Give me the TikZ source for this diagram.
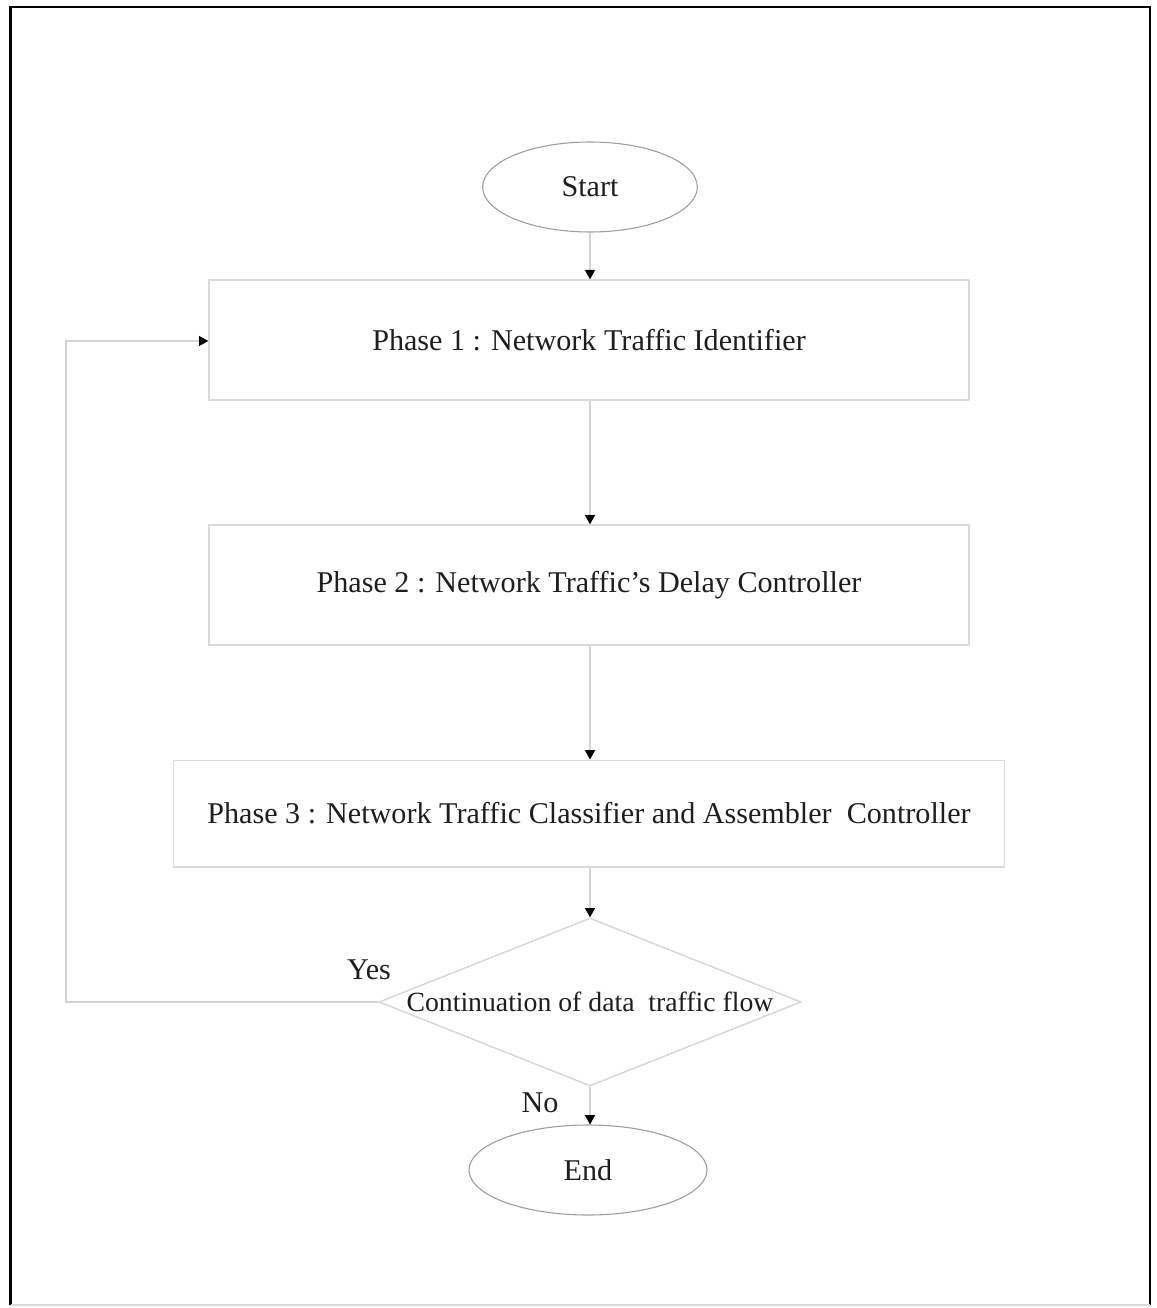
\documentclass[tikz,border=0pt]{standalone}
\usepackage{fontspec}
\setmainfont{Liberation Serif}
\usetikzlibrary{arrows.meta,shapes.geometric}
\definecolor{boxline}{HTML}{DADADA}
\definecolor{flowline}{HTML}{D4D4D4}
\definecolor{ovalline}{HTML}{9C9C9C}
\definecolor{inkcol}{HTML}{1E1E1E}
\tikzset{
  label font/.style={font=\fontsize{22.6pt}{26pt}\selectfont, text=inkcol},
  terminal/.style={ellipse, draw=ovalline, line width=0.8pt, inner sep=0pt,
    minimum width=161pt, minimum height=67.5pt, label font},
  phasebox/.style={rectangle, draw=boxline, line width=1pt, inner sep=0pt,
    minimum width=570pt, minimum height=90pt, label font},
  decision/.style={diamond, draw=flowline, line width=1pt, inner sep=0pt,
    minimum width=316.5pt, minimum height=126pt},
  flow/.style={draw=flowline, line width=1pt,
    -{Triangle[width=7.5pt,length=7pt,color=black]}}
}
\begin{document}
\begin{tikzpicture}[x=0.75pt,y=-0.75pt]
  \useasboundingbox (0,0) rectangle (1156,1308);
  % outer frame
  \draw[black, line width=2pt] (10.5,1305) -- (10.5,7) -- (1150,7) -- (1150,1305);
  \draw[boxline, line width=1pt] (10.5,1305) -- (1150,1305);

  % flow nodes
  \node[terminal] (start) at (590,187) {Start};
  \node[phasebox] (p1) at (589,340) {Phase 1 : Network Traffic Identifier};
  \node[phasebox] (p2) at (589,585) {Phase 2 : Network Traffic’s Delay Controller};
  \node[phasebox, minimum width=623pt, minimum height=80pt] (p3) at (589,813.5)
    {Phase 3 : Network Traffic Classifier and Assembler\ \ Controller};
  \node[decision] (dec) at (590,1002) {};
  \node[label font, font=\fontsize{20.8pt}{24pt}\selectfont] (dectext) at (590,1002)
    {Continuation of data\ \ traffic flow};
  \node[terminal, minimum width=178.5pt] (end) at (588,1170) {End};

  % vertical axis of the main flow
  \coordinate (axis) at (590,0);
  \coordinate (loop) at (66,341);

  % connectors
  \draw[flow] (start.south) -- (start.south |- p1.north);
  \draw[flow] (p1.south -| axis) -- (p2.north -| axis);
  \draw[flow] (p2.south -| axis) -- (p3.north -| axis);
  \draw[flow] (p3.south -| axis) -- (dec.north);
  \draw[flow] (dec.south) -- (dec.south |- end.north);
  \draw[flow] (dec.west) -| (loop) |- (p1.west |- loop);

  % branch labels
  \node[label font] (yes) at (369,970) {Yes};
  \node[label font] (no) at (540,1103) {No};
\end{tikzpicture}
\end{document}
